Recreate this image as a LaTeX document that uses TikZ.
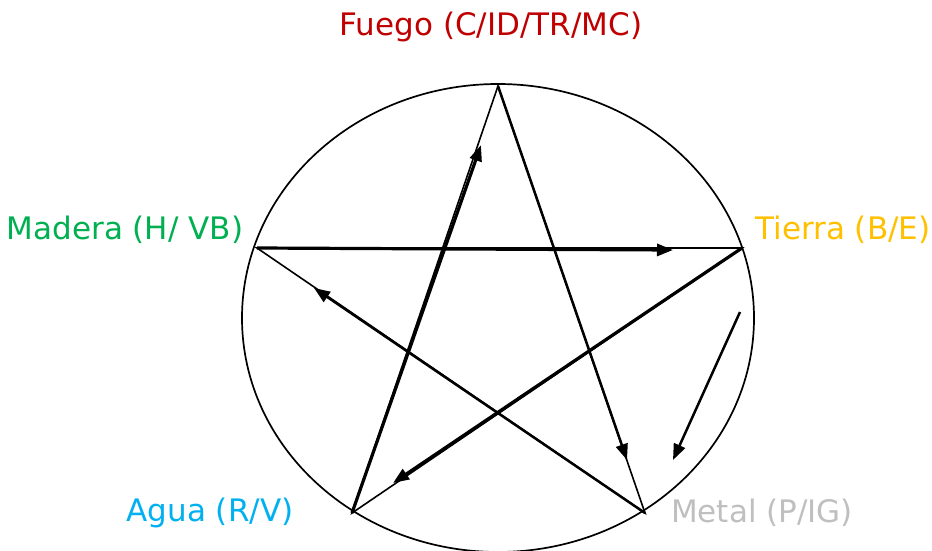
\documentclass[tikz,border=0pt]{standalone}
\usepackage{fontspec}
\setmainfont{DejaVu Sans}
\usetikzlibrary{arrows.meta}
\definecolor{fuego}{HTML}{C00000}
\definecolor{madera}{HTML}{00B050}
\definecolor{tierra}{HTML}{FFC000}
\definecolor{agua}{HTML}{00B0F0}
\definecolor{metal}{HTML}{BFBFBF}
\tikzset{
  thinline/.style={line width=1.6pt},
  flow/.style={line width=3.2pt,-{Triangle[length=16pt,width=12pt]}},
  flowm/.style={line width=2.5pt,-{Triangle[length=16pt,width=12pt]}},
  lbl/.style={font=\fontsize{31}{37}\selectfont, inner sep=0pt}
}
\begin{document}
\begin{tikzpicture}[x=1pt,y=-1pt]
\useasboundingbox (0,0) rectangle (932,551);
\coordinate (T) at (498,86);
\coordinate (R) at (742,248);
\coordinate (BR) at (645,513);
\coordinate (BL) at (352,513);
\coordinate (L) at (257,248);
\draw[line width=1.7pt] (498,318) ellipse [x radius=256, y radius=234];
% thin star
\draw[thinline] (T) -- (BR) -- (L) -- (R) -- (BL) -- cycle;
% arrows
\coordinate (a1) at (481,145);
\coordinate (a2) at (673,250);
\coordinate (a3) at (393,483);
\coordinate (a4) at (627,460);
\coordinate (a5) at (314,288);
\coordinate (s1) at (740,312);
\coordinate (s2) at (673,460);
\draw[flow] (BL) -- (a1);
\draw[flow] (L) -- (a2);
\draw[flow] (R) -- (a3);
\draw[flowm] (T) -- (a4);
\draw[flowm] (BR) -- (a5);
\draw[flowm] (s1) -- (s2);
% labels
\node[lbl, text=fuego] (fuego) at (491,27) {Fuego (C/ID/TR/MC)};
\node[lbl, text=madera] (madera) at (125,230) {Madera (H/ VB)};
\node[lbl, text=tierra] (tierra) at (843,230) {Tierra (B/E)};
\node[lbl, text=agua] (agua) at (210,513) {Agua (R/V)};
\node[lbl, text=metal] (metal) at (762,513) {Metal (P/IG)};
\end{tikzpicture}
\end{document}
